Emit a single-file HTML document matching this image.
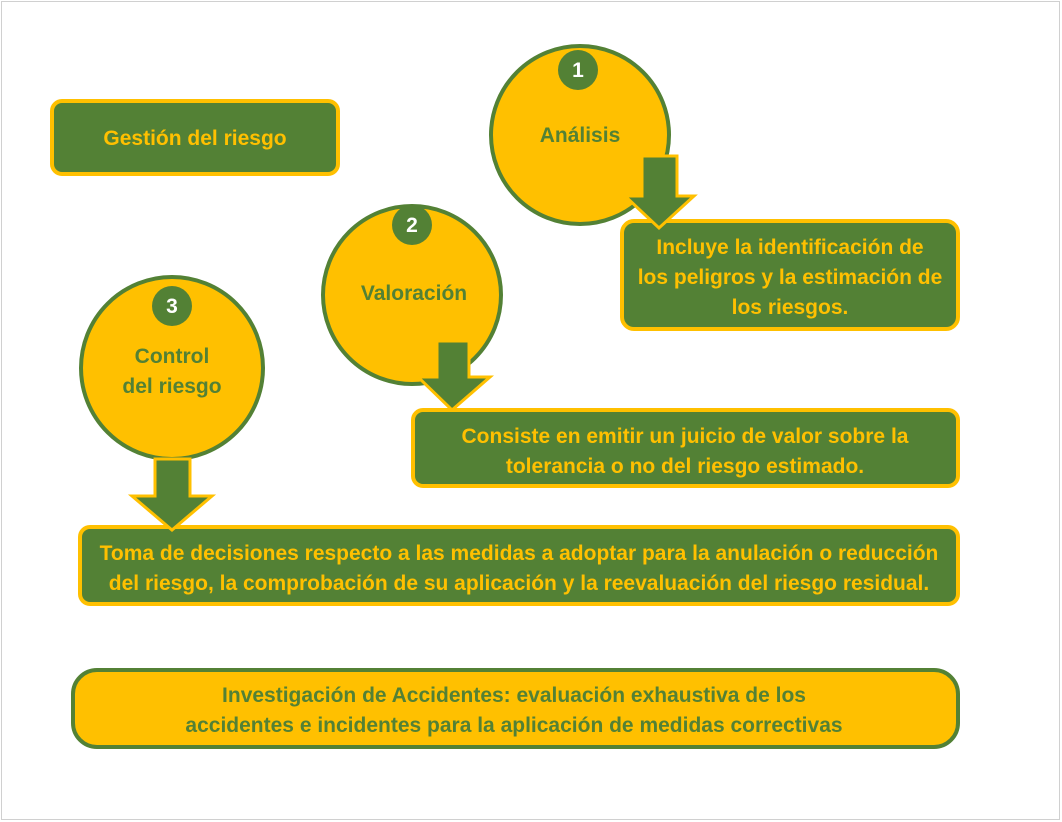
<!DOCTYPE html>
<html><head><meta charset="utf-8"><style>
body{margin:0;background:#fff}
svg{display:block}
text{font-family:"Liberation Sans",sans-serif;font-weight:bold;font-size:21px;text-anchor:middle}
.y{fill:#FFC000}.g{fill:#538135}
</style></head><body>
<svg width="1062" height="822" viewBox="0 0 1062 822">
<rect x="1.5" y="1.5" width="1058" height="818" fill="#fff" stroke="#d0d0d0"/>
<g stroke-width="4">
<rect x="52" y="101" width="286" height="73" rx="10" fill="#538135" stroke="#FFC000"/>
<circle cx="580" cy="135" r="89" fill="#FFC000" stroke="#538135"/>
<circle cx="412" cy="295" r="89" fill="#FFC000" stroke="#538135"/>
<circle cx="172" cy="368" r="91" fill="#FFC000" stroke="#538135"/>
<rect x="622" y="221" width="336" height="108" rx="12" fill="#538135" stroke="#FFC000"/>
<rect x="413" y="410" width="545" height="76" rx="10" fill="#538135" stroke="#FFC000"/>
<rect x="80" y="527" width="878" height="77" rx="10" fill="#538135" stroke="#FFC000"/>
<rect x="73" y="670" width="885" height="77" rx="24" fill="#FFC000" stroke="#538135"/>
</g>
<g fill="#538135" stroke="#FFC000" stroke-width="3">
<polygon points="642,156 677,156 677,196 694,196 659,228 625,196 642,196"/>
<polygon points="437,341 469,341 469,377 490,377 452,410 418,377 437,377"/>
<polygon points="155,459 190,459 190,496 212,496 172,530 132,496 155,496"/>
</g>
<circle cx="578" cy="70" r="20" fill="#538135"/>
<circle cx="412" cy="225" r="20" fill="#538135"/>
<circle cx="172" cy="306" r="20" fill="#538135"/>
<g style="font-weight:normal;font-size:20px" fill="#fff">
<text x="578" y="77">1</text><text x="412" y="232">2</text><text x="172" y="313">3</text>
</g>
<g class="y">
<text x="195" y="145">Gestión del riesgo</text>
<text x="790" y="254">Incluye la identificación de</text>
<text x="790" y="284">los peligros y la estimación de</text>
<text x="790" y="314">los riesgos.</text>
<text x="685" y="443">Consiste en emitir un juicio de valor sobre la</text>
<text x="685" y="473">tolerancia o no del riesgo estimado.</text>
<text x="519" y="560">Toma de decisiones respecto a las medidas a adoptar para la anulación o reducción</text>
<text x="519" y="590">del riesgo, la comprobación de su aplicación y la reevaluación del riesgo residual.</text>
</g>
<g class="g">
<text x="580" y="142">Análisis</text>
<text x="414" y="300">Valoración</text>
<text x="172" y="363">Control</text>
<text x="172" y="393">del riesgo</text>
<text x="514" y="702">Investigación de Accidentes: evaluación exhaustiva de los</text>
<text x="514" y="732">accidentes e incidentes para la aplicación de medidas correctivas</text>
</g>
</svg>
</body></html>
